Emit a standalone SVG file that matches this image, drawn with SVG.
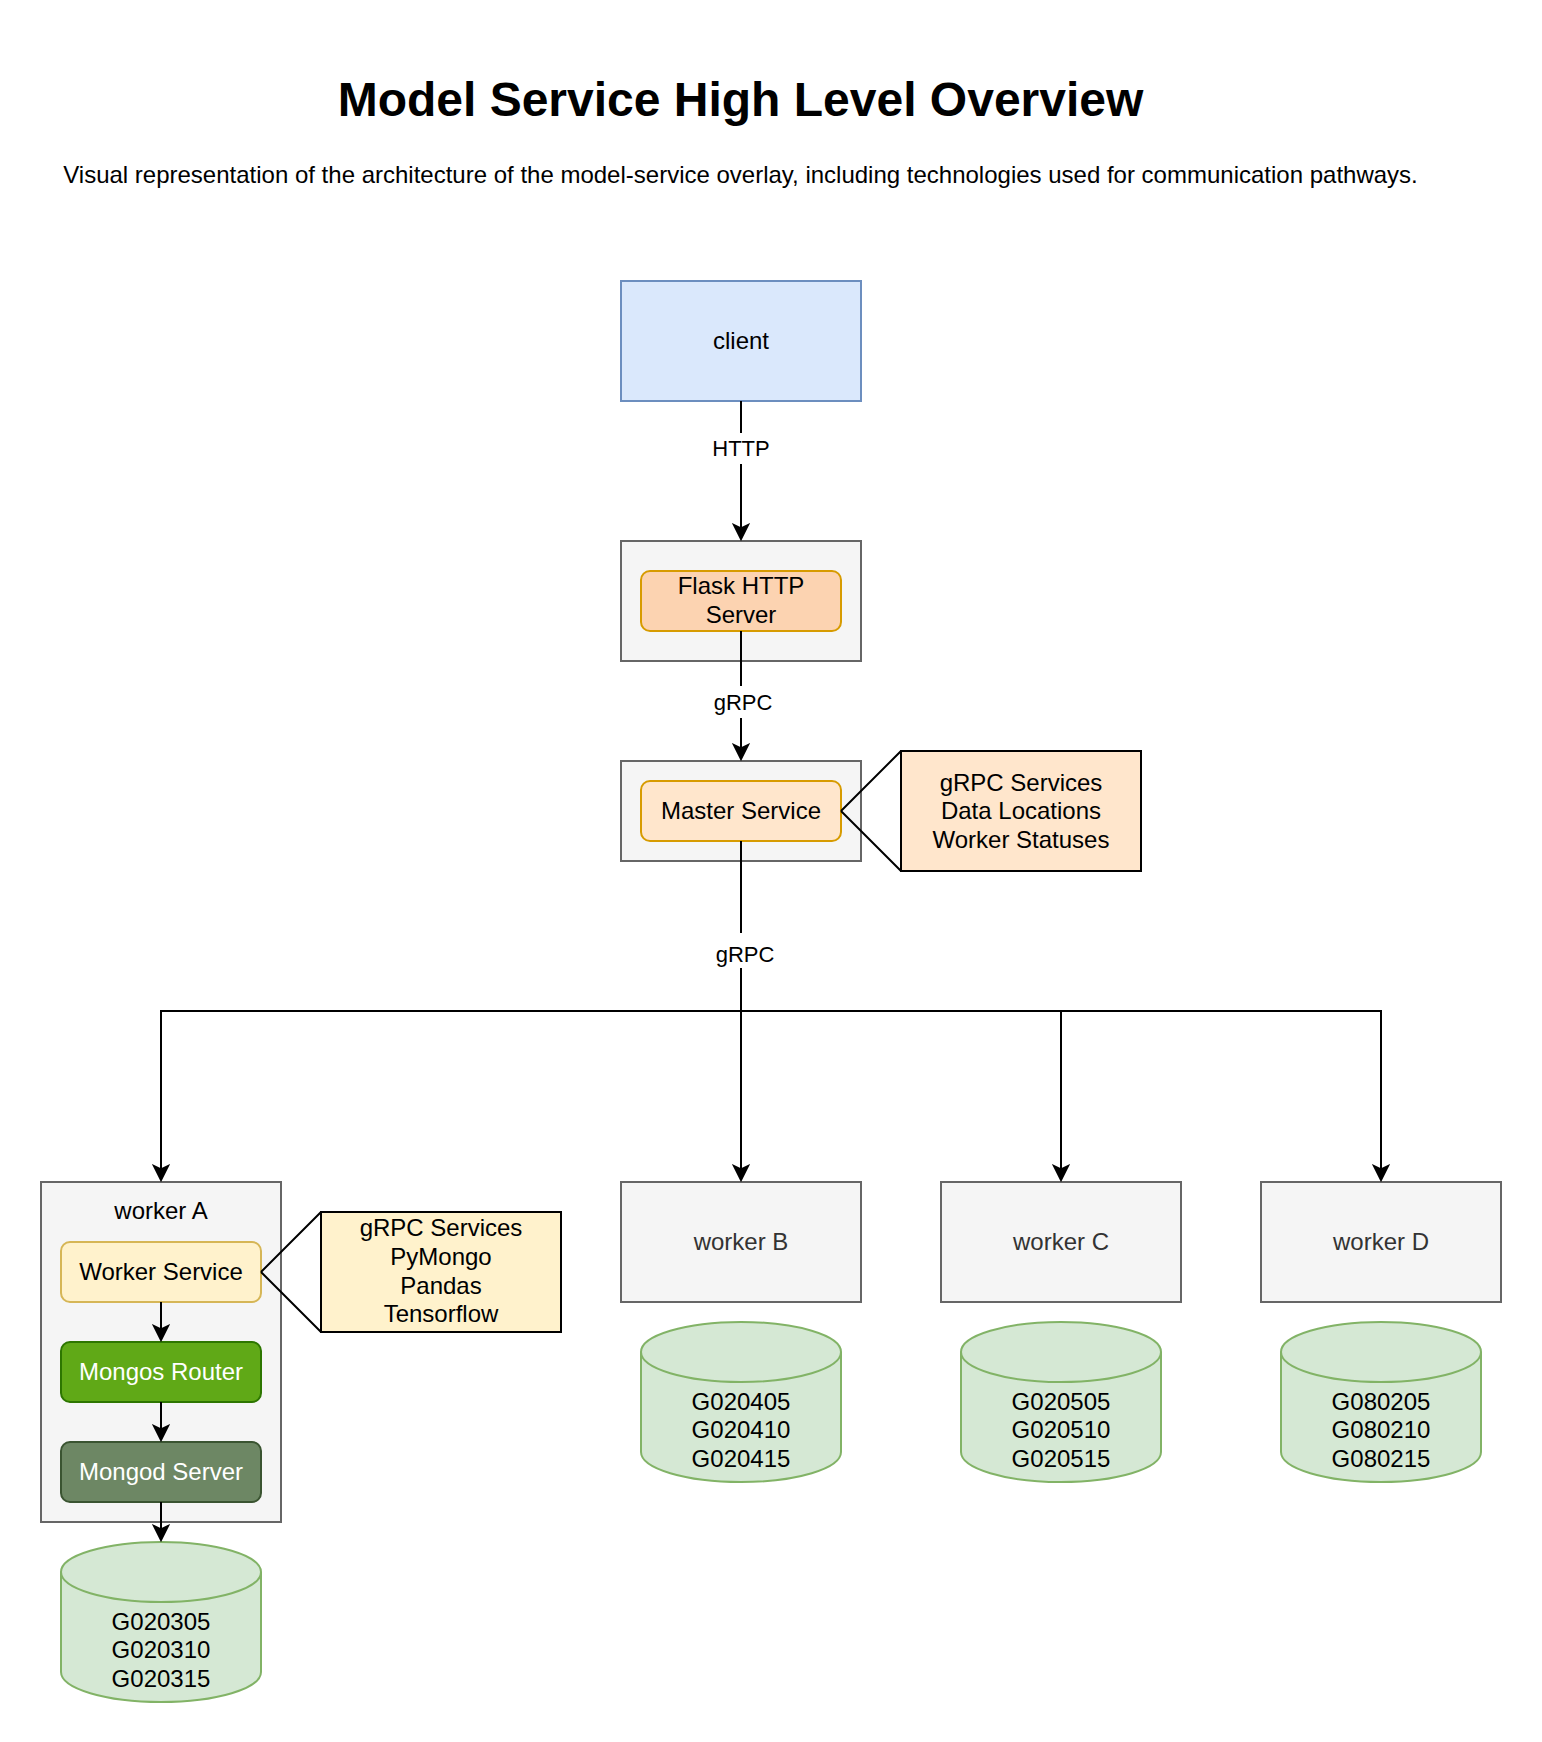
<svg xmlns="http://www.w3.org/2000/svg" width="1542" height="1742" viewBox="0 0 1542 1742">
<style>
  text { font-family: "Liberation Sans", Arial, sans-serif; font-size: 24px; text-anchor: middle; fill: #000000; }
  .title { font-size: 48px; font-weight: bold; }
  .lbl { font-size: 22px; }
  .muted { fill: #333333; }
  .white { fill: #ffffff; }
  .container { fill: #f5f5f5; stroke: #666666; stroke-width: 2; }
  .client { fill: #dae8fc; stroke: #6c8ebf; stroke-width: 2; }
  .flask { fill: #fcd3b1; stroke: #d79b00; stroke-width: 2; }
  .master { fill: #ffe6cc; stroke: #d79b00; stroke-width: 2; }
  .mnote { fill: #ffe6cc; stroke: #000000; stroke-width: 2; }
  .wsvc { fill: #fff2cc; stroke: #d6b656; stroke-width: 2; }
  .wnote { fill: #fff2cc; stroke: #000000; stroke-width: 2; }
  .mongos { fill: #60a917; stroke: #2d7600; stroke-width: 2; }
  .mongod { fill: #6d8764; stroke: #3a5431; stroke-width: 2; }
  .db { fill: #d5e8d4; stroke: #82b366; stroke-width: 2; }
  .dbfront { fill: none; stroke: #82b366; stroke-width: 2; }
  .edge { fill: none; stroke: #000000; stroke-width: 2; }
  .arrow { fill: none; stroke: #000000; stroke-width: 2; marker-end: url(#arr); }
  .lblbg { fill: #ffffff; stroke: none; }
</style>
<defs>
  <marker id="arr" viewBox="-17 -9 19 18" markerWidth="19" markerHeight="18" refX="-10" refY="0" orient="auto" markerUnits="userSpaceOnUse">
    <path d="M0,0 L-14,-7 L-10.5,0 L-14,7 Z" fill="#000000" stroke="#000000" stroke-width="2" stroke-linejoin="miter"/>
  </marker>
</defs>
<rect width="1542" height="1742" fill="#ffffff"/>

<g id="title">
  <text class="title" x="740.5" y="116">Model Service High Level Overview</text>
</g>
<g id="subtitle">
  <text x="740.5" y="183">Visual representation of the architecture of the model-service overlay, including technologies used for communication pathways.</text>
</g>

<g id="client">
  <rect class="client" x="621" y="281" width="240" height="120"/>
  <text x="741" y="349">client</text>
</g>

<g id="flask-container">
  <rect class="container" x="621" y="541" width="240" height="120"/>
</g>
<g id="flask-http-server">
  <rect class="flask" x="641" y="571" width="200" height="60" rx="9" ry="9"/>
  <text x="741" y="594">Flask HTTP</text>
  <text x="741" y="623">Server</text>
</g>

<g id="master-container">
  <rect class="container" x="621" y="761" width="240" height="100"/>
</g>
<g id="master-service">
  <rect class="master" x="641" y="781" width="200" height="60" rx="9" ry="9"/>
  <text x="741" y="819">Master Service</text>
</g>
<g id="master-note">
  <path class="edge" d="M841,811 L901,751 M841,811 L901,871"/>
  <rect class="mnote" x="901" y="751" width="240" height="120"/>
  <text x="1021" y="790.5">gRPC Services</text>
  <text x="1021" y="819.3">Data Locations</text>
  <text x="1021" y="848.1">Worker Statuses</text>
</g>

<g id="worker-a">
  <rect class="container" x="41" y="1182" width="240" height="340"/>
  <text x="161" y="1218.5">worker A</text>
</g>
<g id="worker-service">
  <rect class="wsvc" x="61" y="1242" width="200" height="60" rx="9" ry="9"/>
  <text x="161" y="1280">Worker Service</text>
</g>
<g id="mongos-router">
  <rect class="mongos" x="61" y="1342" width="200" height="60" rx="9" ry="9"/>
  <text class="white" x="161" y="1380">Mongos Router</text>
</g>
<g id="mongod-server">
  <rect class="mongod" x="61" y="1442" width="200" height="60" rx="9" ry="9"/>
  <text class="white" x="161" y="1480">Mongod Server</text>
</g>
<g id="worker-note">
  <path class="edge" d="M261,1272 L321,1212 M261,1272 L321,1332"/>
  <rect class="wnote" x="321" y="1212" width="240" height="120"/>
  <text x="441" y="1236">gRPC Services</text>
  <text x="441" y="1264.8">PyMongo</text>
  <text x="441" y="1293.6">Pandas</text>
  <text x="441" y="1322.4">Tensorflow</text>
</g>
<g id="db-a">
  <path class="db" d="M61,1572 A100,30 0 0 1 261,1572 V1672 A100,30 0 0 1 61,1672 Z"/>
  <path class="dbfront" d="M61,1572 A100,30 0 0 0 261,1572"/>
  <text x="161" y="1629.5">G020305</text>
  <text x="161" y="1658">G020310</text>
  <text x="161" y="1686.5">G020315</text>
</g>

<g id="worker-b">
  <rect class="container" x="621" y="1182" width="240" height="120"/>
  <text class="muted" x="741" y="1250">worker B</text>
</g>
<g id="db-b">
  <path class="db" d="M641,1352 A100,30 0 0 1 841,1352 V1452 A100,30 0 0 1 641,1452 Z"/>
  <path class="dbfront" d="M641,1352 A100,30 0 0 0 841,1352"/>
  <text x="741" y="1409.5">G020405</text>
  <text x="741" y="1438">G020410</text>
  <text x="741" y="1466.5">G020415</text>
</g>

<g id="worker-c">
  <rect class="container" x="941" y="1182" width="240" height="120"/>
  <text class="muted" x="1061" y="1250">worker C</text>
</g>
<g id="db-c">
  <path class="db" d="M961,1352 A100,30 0 0 1 1161,1352 V1452 A100,30 0 0 1 961,1452 Z"/>
  <path class="dbfront" d="M961,1352 A100,30 0 0 0 1161,1352"/>
  <text x="1061" y="1409.5">G020505</text>
  <text x="1061" y="1438">G020510</text>
  <text x="1061" y="1466.5">G020515</text>
</g>

<g id="worker-d">
  <rect class="container" x="1261" y="1182" width="240" height="120"/>
  <text class="muted" x="1381" y="1250">worker D</text>
</g>
<g id="db-d">
  <path class="db" d="M1281,1352 A100,30 0 0 1 1481,1352 V1452 A100,30 0 0 1 1281,1452 Z"/>
  <path class="dbfront" d="M1281,1352 A100,30 0 0 0 1481,1352"/>
  <text x="1381" y="1409.5">G080205</text>
  <text x="1381" y="1438">G080210</text>
  <text x="1381" y="1466.5">G080215</text>
</g>

<g id="connectors">
  <path class="arrow" d="M741,401 V529"/>
  <path class="arrow" d="M741,631 V749"/>
  <path class="arrow" d="M741,841 V1170"/>
  <path class="arrow" d="M741,841 V1011 H161 V1170"/>
  <path class="arrow" d="M741,841 V1011 H1061 V1170"/>
  <path class="arrow" d="M741,841 V1011 H1381 V1170"/>
  <path class="arrow" d="M161,1302 V1330"/>
  <path class="arrow" d="M161,1402 V1430"/>
  <path class="arrow" d="M161,1502 V1530"/>
  <rect class="lblbg" x="710" y="433" width="62" height="31"/>
  <text class="lbl" x="741" y="456">HTTP</text>
  <rect class="lblbg" x="709" y="686" width="68" height="32"/>
  <text class="lbl" x="743" y="710">gRPC</text>
  <rect class="lblbg" x="711" y="933" width="68" height="35"/>
  <text class="lbl" x="745" y="962">gRPC</text>
</g>
</svg>
